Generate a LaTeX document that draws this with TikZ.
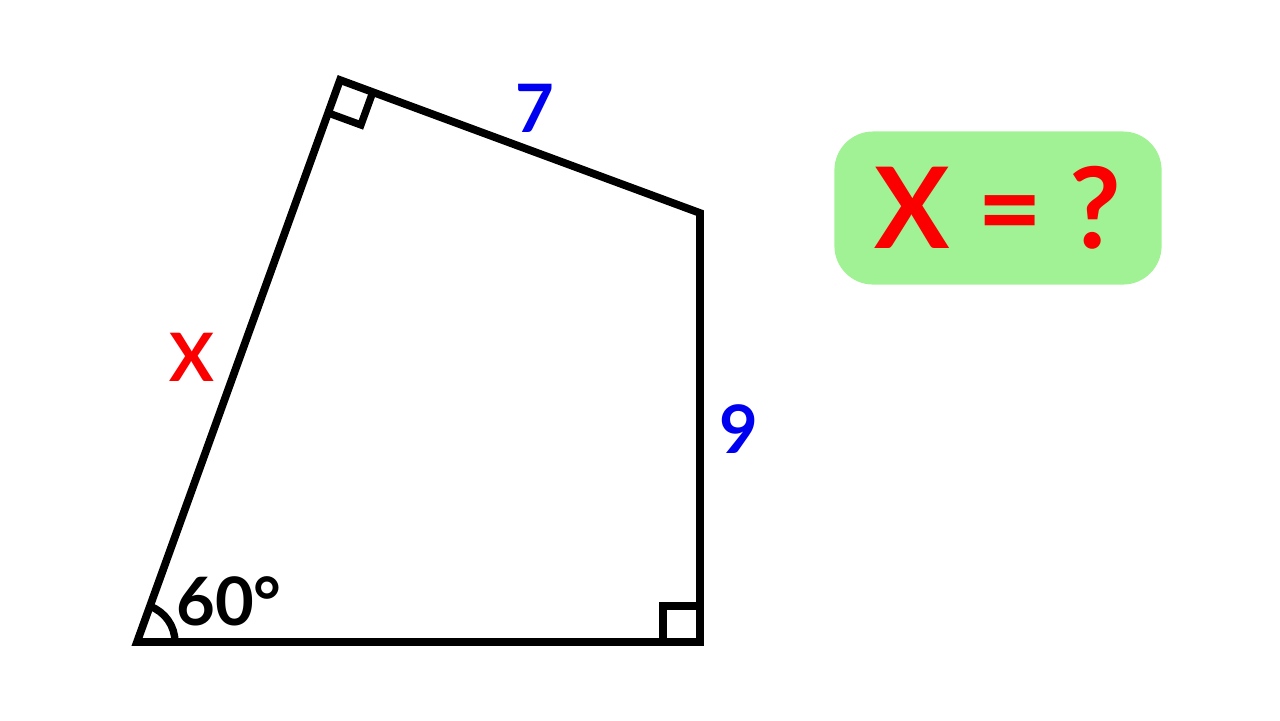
\documentclass[tikz,border=0pt]{standalone}
\usepackage{fontspec}
\setmainfont{Lato}
\usepackage{xcolor}
\usetikzlibrary{positioning,calc}

\definecolor{sideblue}{RGB}{0,0,240}
\definecolor{xred}{RGB}{250,0,0}
\definecolor{boxgreen}{RGB}{160,242,148}

\tikzset{
  side/.style={line width=2.2pt, line cap=rect, line join=miter},
  anglemark/.style={line width=2.1pt},
  lbl/.style={font=\fontsize{19}{23}\selectfont\bfseries, inner sep=0pt},
}

\begin{document}
\begin{tikzpicture}[x=0.01cm, y=-0.01cm]
    \useasboundingbox (0,0) rectangle (1280,720);
    % corners of the quadrilateral
    \coordinate (A) at (137,642);
    \coordinate (B) at (340,80);
    \coordinate (C) at (700,213);
    \coordinate (D) at (700,642);

    \draw [side] (A) -- (B) -- (C) -- (D) -- cycle;

    % right angle marks
    \draw [anglemark] (372.8,92.1) -- (360.9,124.9) -- (328.1,112.9);
    \draw [anglemark] (663,642) -- (663,606) -- (700,606);
    % angle at A
    \draw [anglemark] (175,642) arc[start angle=0, end angle=-70, radius=38];

    % labels
    \node [lbl, text=sideblue] (seven) at (535,108) {7};
    \node [lbl, text=sideblue] (nine) at (739,429) {9};
    \node [lbl, text=xred] (xside) at (192,357) {X};
    \node [lbl] (angle) at (229,601) {60°};

    \node [fill=boxgreen, rounded corners=11pt, minimum width=3.27cm,
      minimum height=1.53cm, text=xred, inner sep=0pt,
      font=\fontsize{32}{38}\selectfont\bfseries] (ask) at (998,208) {X = ?};
\end{tikzpicture}
\end{document}
